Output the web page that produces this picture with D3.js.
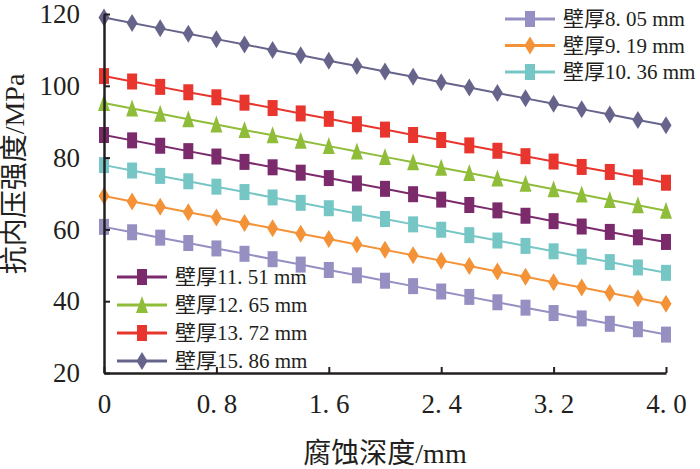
<!DOCTYPE html>
<html>
<head>
<meta charset="utf-8">
<script src="https://cdn.jsdelivr.net/npm/d3@7.9.0/dist/d3.min.js"></script>
<style>
  body { margin: 0; background: #fff; }
  svg text { font-family: "Liberation Serif", "Noto Sans CJK SC", serif; fill: #231f20; }
</style>
</head>
<body>
<svg id="chart" width="700" height="469"></svg>
<script>
// corrosion depth (mm)
const depth = [0, 0.2, 0.4, 0.6, 0.8, 1.0, 1.2, 1.4, 1.6, 1.8, 2.0, 2.2, 2.4, 2.6, 2.8, 3.0, 3.2, 3.4, 3.6, 3.8, 4.0];

// internal pressure strength (MPa) per wall thickness
const s805  = [60.7, 59.2, 57.7, 56.2, 54.7, 53.2, 51.7, 50.2, 48.7, 47.2, 45.7, 44.2, 42.7, 41.2, 39.7, 38.2, 36.7, 35.2, 33.7, 32.2, 30.7];
const s919  = [69.3, 67.8, 66.3, 64.8, 63.3, 61.8, 60.3, 58.8, 57.3, 55.8, 54.3, 52.8, 51.3, 49.8, 48.3, 46.8, 45.3, 43.8, 42.3, 40.8, 39.3];
const s1036 = [77.9, 76.4, 74.9, 73.4, 71.9, 70.4, 68.9, 67.4, 65.9, 64.4, 62.9, 61.4, 59.9, 58.4, 56.9, 55.4, 53.9, 52.4, 50.9, 49.4, 47.9];
const s1151 = [86.3, 84.8, 83.3, 81.8, 80.3, 78.8, 77.3, 75.8, 74.3, 72.8, 71.3, 69.8, 68.3, 66.8, 65.3, 63.8, 62.3, 60.8, 59.3, 57.8, 56.5];
const s1265 = [95.2, 93.7, 92.2, 90.7, 89.2, 87.7, 86.2, 84.7, 83.2, 81.7, 80.2, 78.7, 77.2, 75.7, 74.2, 72.7, 71.2, 69.7, 68.2, 66.7, 65.2];
const s1372 = [102.7, 101.2, 99.7, 98.2, 96.8, 95.3, 93.8, 92.3, 90.8, 89.3, 87.8, 86.3, 84.9, 83.4, 81.9, 80.4, 78.9, 77.4, 76.0, 74.5, 73.0];
const s1586 = [119.0, 117.5, 116.0, 114.5, 113.0, 111.5, 110.0, 108.5, 107.0, 105.5, 104.0, 102.5, 101.0, 99.5, 98.0, 96.5, 95.0, 93.5, 92.0, 90.5, 89.0];

const seriesNames = ['壁厚8. 05 mm', '壁厚9. 19 mm', '壁厚10. 36 mm', '壁厚11. 51 mm', '壁厚12. 65 mm', '壁厚13. 72 mm', '壁厚15. 86 mm'];
const seriesValues = [s805, s919, s1036, s1151, s1265, s1372, s1586];
const seriesColors = ['#958fc2', '#f39237', '#77c6c6', '#7b2a6c', '#8fbd3a', '#e8352e', '#67648c'];
const seriesShapes = ['square', 'diamond', 'square', 'square', 'triangle', 'square', 'diamond'];

const xTicks = [0, 0.8, 1.6, 2.4, 3.2, 4.0];
const xTickLabels = ['0', '0. 8', '1. 6', '2. 4', '3. 2', '4. 0'];
const yTicks = [20, 40, 60, 80, 100, 120];

const svg = d3.select('#chart');
const x = d3.scaleLinear().domain([0, 4]).range([104, 666]);
const y = d3.scaleLinear().domain([20, 120]).range([373, 14]);

// marker paths, a bit taller than wide like the original
function markerPath(shape) {
  if (shape === 'square') return 'M-5,-8H5V8H-5Z';
  if (shape === 'diamond') return 'M0,-9L5.5,0L0,9L-5.5,0Z';
  return 'M0,-9L6,8H-6Z';
}

const data = seriesNames.map((name, i) => ({
  name,
  color: seriesColors[i],
  shape: seriesShapes[i],
  points: depth.map((d, j) => [d, seriesValues[i][j]])
}));

const line = d3.line().x((d) => x(d[0])).y((d) => y(d[1]));

data.forEach((s) => {
  svg.append('path')
    .attr('d', line(s.points))
    .attr('fill', 'none')
    .attr('stroke', s.color)
    .attr('stroke-width', 2);
  svg.append('g').selectAll('path')
    .data(s.points)
    .join('path')
    .attr('transform', (d) => `translate(${x(d[0])},${y(d[1])})`)
    .attr('d', markerPath(s.shape))
    .attr('fill', s.color);
});

// axes
const xAxis = svg.append('g')
  .attr('transform', `translate(0,${y(20)})`)
  .call(d3.axisBottom(x).tickValues(xTicks).tickSizeInner(-6).tickSizeOuter(0).tickFormat((d, i) => xTickLabels[i]));
xAxis.select('.domain').attr('stroke', '#231f20').attr('stroke-width', 2.5);
xAxis.selectAll('.tick line').attr('stroke', '#231f20').attr('stroke-width', 2);
xAxis.selectAll('.tick text').attr('y', 21).attr('font-size', 27).attr('fill', '#231f20');

const yAxis = svg.append('g')
  .attr('transform', `translate(${x(0)},0)`)
  .call(d3.axisLeft(y).tickValues(yTicks).tickSizeInner(-6).tickSizeOuter(0));
yAxis.select('.domain').attr('stroke', '#231f20').attr('stroke-width', 2.5);
yAxis.selectAll('.tick line').attr('stroke', '#231f20').attr('stroke-width', 2);
yAxis.selectAll('.tick text').attr('x', -24).attr('font-size', 27).attr('fill', '#231f20');

svg.selectAll('.tick text').style('font-family', '"Liberation Serif", serif');

// axis titles
svg.append('text')
  .attr('x', 385).attr('y', 463)
  .attr('text-anchor', 'middle')
  .attr('font-size', 28)
  .text('腐蚀深度/mm');

svg.append('text')
  .attr('transform', 'translate(24,174) rotate(-90)')
  .attr('text-anchor', 'middle')
  .attr('font-size', 28)
  .text('抗内压强度/MPa');

// legends: first three top right, rest lower left
function drawLegend(items, lx, ly, gap) {
  items.forEach((s, i) => {
    const g = svg.append('g').attr('transform', `translate(${lx},${ly + i * gap})`);
    g.append('line').attr('x1', 0).attr('x2', 50).attr('stroke', s.color).attr('stroke-width', 3);
    g.append('path').attr('transform', 'translate(25,0)').attr('d', markerPath(s.shape)).attr('fill', s.color);
    g.append('text').attr('x', 58).attr('dy', '0.35em').attr('font-size', 21).text(s.name);
  });
}
drawLegend(data.slice(0, 3), 505, 19, 26.5);
drawLegend(data.slice(3), 117, 277, 28);
</script>
</body>
</html>
